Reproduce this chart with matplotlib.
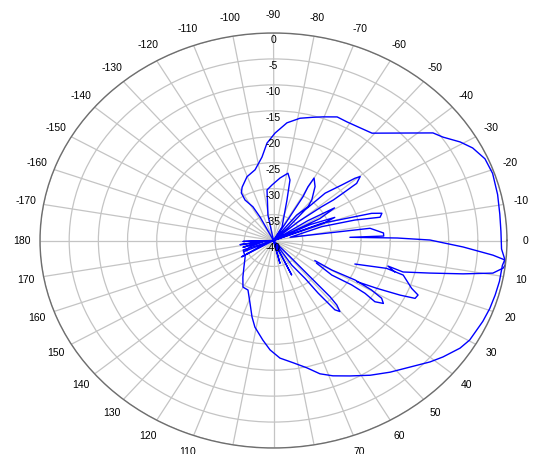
import numpy as np
import matplotlib
matplotlib.use('Agg')
import matplotlib.pyplot as plt

plt.rcParams['font.family'] = ['Liberation Sans', 'DejaVu Sans']

# outer envelope trace (angle in deg, level in dB)
env_deg = [-117, -117, -118.5, -122, -121, -117.6, -110.3, -103, -97, -93.4, -89.3, -84.2,
           -79.1, -74.1, -70.4, -65.4, -61.1, -55.7, -50.8, -37.2, -34.5, -30.7, -27.6,
           -23.5, -19, -13, -7.5, -2.6, 2.4, 5.3, 7, 11.5, 15.5, 19.5, 23.5, 29.7, 33.0,
           37.7, 41.1, 46.2, 51.8, 57.5, 63.4, 68.7, 72.8, 76.9, 81.9, 87.2, 91.6, 95.4,
           100.8, 104, 108.5, 114.6, 120.2, 126.6, 134.7, 146.9, 160.7, 160]
env_db = [-40, -34.9, -32.6, -30.8, -29.3, -28.4, -26.9, -26.0, -23.8, -21.2, -19.3, -17.2,
          -16.0, -15.3, -14.7, -13.8, -13.9, -13.7, -13.3, -5.7, -4.8, -2.8, -1.5,
          -0.5, -0.3, -0.6, -0.9, -1.0, -0.9, -0.2, -0.5, -0.5, -0.6, -0.7, -0.9, -1.3, -1.9,
          -3.3, -4.4, -6.2, -7.7, -9.2, -10.8, -12.0, -13.1, -14.8, -16.2, -17.3, -18.9, -20.7,
          -23.0, -24.8, -27.3, -29.5, -29.6, -31.2, -32.8, -34.2, -34.5, -40]

# lobe trace (nan = gap in the data)
lobe_deg = [180, 178, 180, 172, 176, 166, 170, 163, 157, 162, 150, 180,
            -101, -96.5, -91.4, -84.7, -79.2, -76.4, -73.5, -60.8, -60,
            -58, -59.1, -60.3, -60.0, -55.6, -50.0, -47.8, -51, -50,
            -45, -47.5, -45.9, -42.5, -40.7, -39.7, -37.7, -37.5, -37.3, -38.3, -40.5, -40,
            -33, -31, -28, -30,
            -26, -23, -21, -22,
            -21.9, -18.2, -17.3, -15.8, -13.8, -15.8, -17.9, -12.3,
            -8.1, -4.4, -2.6, -2.7,
            -1.3, -0.2, 2.2, 4.3, 5.4, 6.7, 7.7, 9.5, 11.2, 13.2, 15.3, 14.1, 16.2, np.nan,
            18.0, 15.5, 16.7, 21.3, 23.0, 24.7, 25.9, 27.5, 29.0, np.nan,
            28.7, 29.7, 28.6, 29.6, 31.0, 32.8, 34.2, 33.0, 32.6, 33.7, 30.7, np.nan,
            45, 47.8, 48.1, 48.2, 48.2, 48.9, 50.3, 51.8, 52.2, 53.0, 53.5, 56.5, 55,
            64.9, 66, 75.8, 75]
lobe_db = [-40, -34.8, -40, -34.2, -38, -34.6, -38, -35.8, -34.4, -39, -33.7, -40,
           -35.0, -30.2, -29.3, -27.9, -26.8, -28.0, -31.9, -37.0, -40,
           -36.5, -30.2, -28.1, -26.1, -27.4, -29.8, -31.2, -33.7, -40,
           -36.5, -32.0, -27.3, -24.2, -21.6, -20.7, -22.0, -24.6, -27.1, -29.5, -34.4, -40,
           -33, -27.8, -31, -40,
           -33, -28.6, -31, -40,
           -31.1, -25.3, -22.4, -20.7, -21.2, -25.5, -31.3, -37.1,
           -23.3, -21.1, -21.1, -26.9,
           -18.8, -13.2, -7.5, -2.3, -0.2, 0, -0.3, -1.9, -6.9, -12.5, -17.0, -19.8, -18.4, np.nan,
           -25.3, -19.9, -16.8, -14.6, -13.1, -13.3, -15.9, -20.0, -23.6, np.nan,
           -31.9, -28.5, -24.1, -20.7, -18.4, -17.6, -19.0, -21.3, -24.1, -28.0, -31.4, np.nan,
           -40, -36.2, -31.9, -28.5, -25.5, -23.5, -22.2, -23.0, -24.7, -27.3, -30.9, -34.3, -40,
           -32.7, -40, -35.5, -40]

r_ticks = [-40, -35, -30, -25, -20, -15, -10, -5, 0]
theta_ticks = np.arange(0, 360, 10)
theta_labels = [str(a if a <= 180 else a - 360) for a in theta_ticks]

fig = plt.figure(figsize=(5.34, 4.54), dpi=100)
ax = fig.add_axes([40/534, 6/454, 467/534, 415/454], projection='polar')
ax.set_aspect('auto')
ax.set_theta_zero_location('E')
ax.set_theta_direction(-1)

ax.plot(np.deg2rad(env_deg), env_db, color='#0000ff', lw=1.0)
ax.plot(np.deg2rad(lobe_deg), lobe_db, color='#0000ff', lw=1.0)

ax.set_ylim(-40, 0)
ax.set_yticks(r_ticks)
ax.set_yticklabels([])
ax.set_thetagrids(theta_ticks, labels=theta_labels, fontsize=7.5)
ax.tick_params(axis='x', pad=2.5)
ax.grid(color='#c4c4c4', linewidth=0.9)
ax.spines['polar'].set_color('#6e6e6e')
ax.spines['polar'].set_linewidth(1.0)

for r in r_ticks:
    ax.annotate(str(r), xy=(np.deg2rad(-90), r), xytext=(0, -1.5), textcoords='offset points',
                ha='center', va='top', fontsize=7.5, annotation_clip=False)

fig.savefig('out.png', dpi=100)
